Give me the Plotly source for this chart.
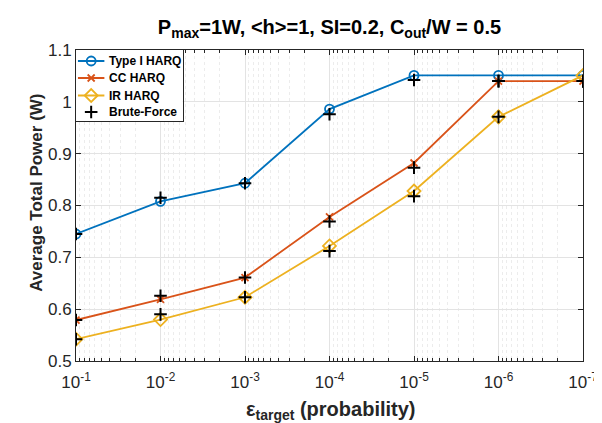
import plotly.graph_objects as go

eps = [1e-1, 1e-2, 1e-3, 1e-4, 1e-5, 1e-6, 1e-7]
type1 = [0.745, 0.808, 0.843, 0.986, 1.051, 1.051, 1.051]
cc = [0.579, 0.619, 0.661, 0.778, 0.882, 1.040, 1.040]
ir = [0.542, 0.580, 0.623, 0.722, 0.828, 0.971, 1.051]
bf_type1 = [0.745, 0.815, 0.843, 0.976, 1.042, 1.040, 1.040]
bf_cc = [0.579, 0.626, 0.661, 0.769, 0.873, 1.040, 1.040]
bf_ir = [0.542, 0.590, 0.623, 0.712, 0.818, 0.971, 1.040]
series_names = ["Type I HARQ", "CC HARQ", "IR HARQ", "Brute-Force"]
xtick_vals = [1e-1, 1e-2, 1e-3, 1e-4, 1e-5, 1e-6, 1e-7]
xtick_text = ["10<sup>-1</sup>", "10<sup>-2</sup>", "10<sup>-3</sup>", "10<sup>-4</sup>",
              "10<sup>-5</sup>", "10<sup>-6</sup>", "10<sup>-7</sup>"]
ytick_vals = [0.5, 0.6, 0.7, 0.8, 0.9, 1.0, 1.1]
ytick_text = ["0.5", "0.6", "0.7", "0.8", "0.9", "1", "1.1"]

BLUE, ORANGE, YELLOW = "#0072BD", "#D95319", "#EDB120"
FONT = "Liberation Sans, Arial, sans-serif"

styles = [
    dict(color=BLUE, symbol="circle-open", size=9, lines=True),
    dict(color=ORANGE, symbol="x-thin-open", size=7, lines=True),
    dict(color=YELLOW, symbol="diamond-open", size=10, lines=True),
    dict(color="black", symbol="cross-thin-open", size=9, lines=False),
]

fig = go.Figure()
for name, yv, st in zip(series_names[:3], [type1, cc, ir], styles[:3]):
    fig.add_trace(go.Scatter(x=eps, y=yv, mode="lines+markers", name=name, showlegend=False,
                             line=dict(color=st["color"], width=1.8),
                             marker=dict(symbol=st["symbol"], size=st["size"], color=st["color"],
                                         line=dict(width=1.8, color=st["color"]))))
bf_x = eps + eps + eps
bf_y = bf_type1 + bf_cc + bf_ir
fig.add_trace(go.Scatter(x=bf_x, y=bf_y, mode="markers", name=series_names[3], showlegend=False,
                         marker=dict(symbol="cross-thin-open", size=9, color="black",
                                     line=dict(width=2, color="black"))))

# Custom legend: an inset subplot (pixel units) in the top-left corner of the plot
PW, PH = 518, 311
LW, LH = 109, 71
row_y = [11, 28, 45.5, 62]
for name, st, ry in zip(series_names, styles, row_y):
    if st["lines"]:
        fig.add_trace(go.Scatter(x=[2, 29], y=[ry, ry], xaxis="x2", yaxis="y2", mode="lines",
                                 line=dict(color=st["color"], width=1.8), hoverinfo="skip",
                                 showlegend=False))
    fig.add_trace(go.Scatter(x=[15.5], y=[ry], xaxis="x2", yaxis="y2", mode="markers",
                             marker=dict(symbol=st["symbol"], size=st["size"], color=st["color"],
                                         line=dict(width=1.8 if st["lines"] else 2, color=st["color"])),
                             hoverinfo="skip", showlegend=False))
    fig.add_annotation(x=32, y=ry, xref="x2", yref="y2", text="<b>%s</b>" % name,
                       showarrow=False, xanchor="left", yanchor="middle",
                       font=dict(size=12, color="#000000", family=FONT))

# axis titles as annotations (placed as in the reference)
fig.add_annotation(x=(27 - 68) / PW, y=1 - (185 - 42) / PH, xref="paper", yref="paper",
                   text="<b>Average Total Power (W)</b>", textangle=-90, showarrow=False,
                   xanchor="center", yanchor="middle",
                   font=dict(size=17, color="#262626", family=FONT))
fig.add_annotation(x=(328.5 - 68) / PW, y=-(402 - 353) / PH, xref="paper", yref="paper",
                   text="<b>ε<sub>target</sub> (probability)</b>", showarrow=False,
                   xanchor="center", yanchor="middle",
                   font=dict(size=20, color="#262626", family=FONT))

fig.update_layout(
    width=602, height=423,
    margin=dict(l=68, r=16, t=42, b=70),
    paper_bgcolor="white", plot_bgcolor="white",
    font=dict(family=FONT, color="#262626"),
    title=dict(text="<b>P<sub>max</sub>=1W, &lt;h&gt;=1, SI=0.2, C<sub>out</sub>/W = 0.5</b>",
               xref="paper", x=0.5, xanchor="center", y=0.955, yanchor="middle",
               font=dict(size=20, color="#000000", family=FONT)),
    showlegend=False,
    xaxis2=dict(domain=[0, LW / PW], anchor="y2", range=[0, LW], showgrid=False, zeroline=False,
                showticklabels=False, ticks="", showline=True, mirror=True,
                linecolor="#262626", linewidth=1, fixedrange=True),
    yaxis2=dict(domain=[1 - LH / PH, 1], anchor="x2", range=[LH, 0], showgrid=False, zeroline=False,
                showticklabels=False, ticks="", showline=True, mirror=True,
                linecolor="#262626", linewidth=1, fixedrange=True),
)
fig.update_layout(xaxis=dict(
    type="log", range=[-1, -7], domain=[0, 1], anchor="y",
    tickvals=xtick_vals, ticktext=xtick_text,
    tickprefix="<b>", ticksuffix="</b>",
    tickfont=dict(size=17, color="#262626", family=FONT),
    ticklabelstandoff=6, ticklabeloverflow="allow",
    showgrid=True, gridcolor="#e3e3e3", gridwidth=1,
    showline=True, linecolor="#262626", linewidth=1, mirror="ticks",
    ticks="inside", ticklen=5, tickcolor="#262626",
    minor=dict(ticks="inside", ticklen=3, tickcolor="#262626", showgrid=True,
               gridcolor="#ececec", griddash="dot", dtick="D1"),
    zeroline=False,
))
fig.update_layout(yaxis=dict(
    range=[0.5, 1.1], domain=[0, 1], anchor="x",
    tickvals=ytick_vals, ticktext=ytick_text,
    tickprefix="<b>", ticksuffix="</b>",
    tickfont=dict(size=17, color="#262626", family=FONT),
    showgrid=True, gridcolor="#e3e3e3", gridwidth=1,
    showline=True, linecolor="#262626", linewidth=1, mirror="ticks",
    ticks="inside", ticklen=5, tickcolor="#262626",
    zeroline=False,
))

fig.write_html("out.html")
